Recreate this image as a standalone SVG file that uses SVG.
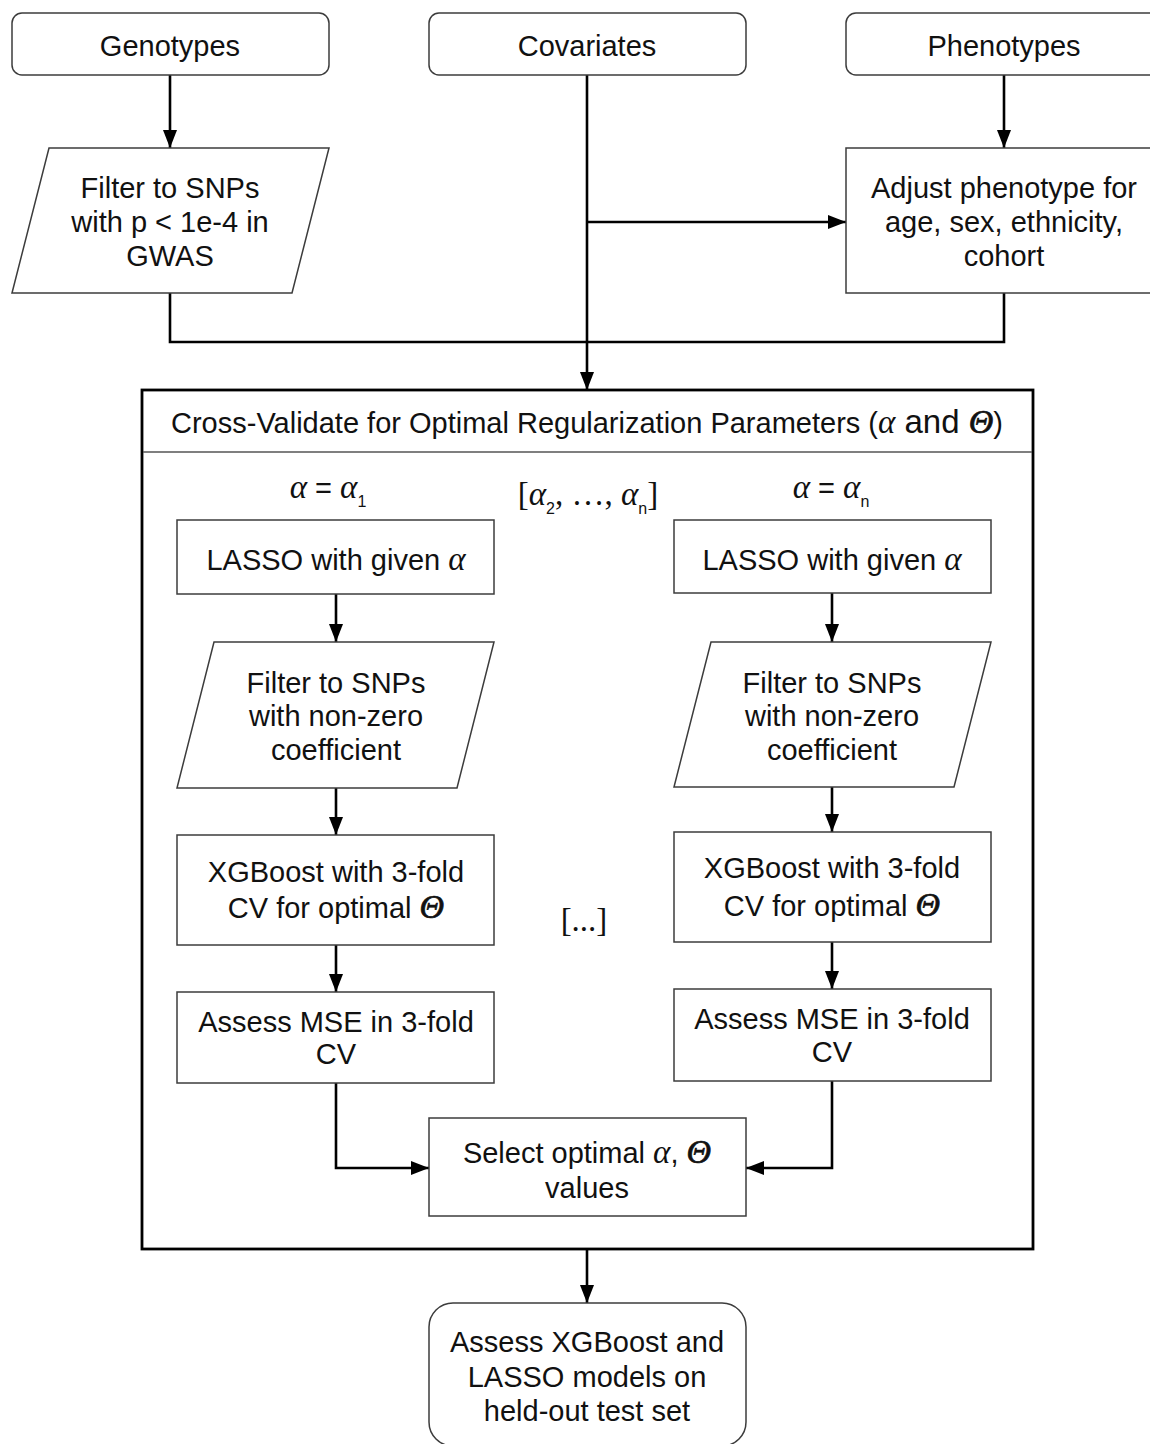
<svg xmlns="http://www.w3.org/2000/svg" width="1150" height="1444" viewBox="0 0 1150 1444">
  <defs>
    <marker id="arrow" markerUnits="userSpaceOnUse" markerWidth="18" markerHeight="14" refX="18" refY="7" orient="auto">
      <path d="M0,0 L18,7 L0,14 z" fill="#000"/>
    </marker>
    <style>
      .node { fill: #fff; stroke: #3c3c3c; stroke-width: 1.5; }
      .frame { fill: #fff; stroke: #000; stroke-width: 2.8; }
      .sep { stroke: #555; stroke-width: 1.5; }
      .conn { fill: none; stroke: #000; stroke-width: 2.6; }
      .arr { marker-end: url(#arrow); }
      text { font-family: "Liberation Sans", Arial, sans-serif; font-size: 29px; fill: #111; text-anchor: middle; }
      .gr { font-family: "Liberation Serif", "Times New Roman", serif; font-style: italic; font-size: 33px; }
      .th { font-family: "Liberation Serif", "Times New Roman", serif; font-style: italic; font-size: 34px; stroke: #111; stroke-width: 0.7; }
      .sub { font-size: 16px; }
      .serif { font-family: "Liberation Serif", "Times New Roman", serif; font-size: 33px; }
    </style>
  </defs>

  <rect width="1150" height="1444" fill="#fff"/>

  <!-- outer cross-validation frame -->
  <g id="cv-frame">
    <rect class="frame" x="142" y="390" width="891" height="859"/>
    <line class="sep" x1="143" y1="452" x2="1032" y2="452"/>
    <text x="587" y="433">Cross-Validate for Optimal Regularization Parameters (<tspan class="gr">α</tspan><tspan font-size="33"> and </tspan><tspan class="th">Θ</tspan>)</text>
  </g>

  <!-- connectors -->
  <g id="connectors">
    <line class="conn arr" x1="170" y1="75" x2="170" y2="148"/>
    <line class="conn arr" x1="1004" y1="75" x2="1004" y2="148"/>
    <line class="conn arr" x1="587" y1="75" x2="587" y2="390"/>
    <line class="conn arr" x1="587" y1="222" x2="846" y2="222"/>
    <polyline class="conn" points="170,293 170,342 1004,342 1004,293"/>

    <line class="conn arr" x1="336" y1="594" x2="336" y2="642"/>
    <line class="conn arr" x1="336" y1="788" x2="336" y2="835"/>
    <line class="conn arr" x1="336" y1="945" x2="336" y2="992"/>

    <line class="conn arr" x1="832" y1="593" x2="832" y2="642"/>
    <line class="conn arr" x1="832" y1="787" x2="832" y2="832"/>
    <line class="conn arr" x1="832" y1="942" x2="832" y2="989"/>

    <polyline class="conn arr" points="336,1083 336,1168 429,1168"/>
    <polyline class="conn arr" points="832,1081 832,1168 746,1168"/>

    <line class="conn arr" x1="587" y1="1249" x2="587" y2="1303"/>
  </g>

  <!-- inputs -->
  <g id="genotypes">
    <rect class="node" x="12" y="13" width="317" height="62" rx="10"/>
    <text x="170" y="56">Genotypes</text>
  </g>
  <g id="covariates">
    <rect class="node" x="429" y="13" width="317" height="62" rx="10"/>
    <text x="587" y="56">Covariates</text>
  </g>
  <g id="phenotypes">
    <rect class="node" x="846" y="13" width="317" height="62" rx="10"/>
    <text x="1004" y="56">Phenotypes</text>
  </g>

  <g id="gwas-filter">
    <polygon class="node" points="49,148 329,148 292,293 12,293"/>
    <text x="170" y="198">Filter to SNPs</text>
    <text x="170" y="232">with p &lt; 1e-4 in</text>
    <text x="170" y="266">GWAS</text>
  </g>

  <g id="adjust-phenotype">
    <rect class="node" x="846" y="148" width="317" height="145"/>
    <text x="1004" y="198">Adjust phenotype for</text>
    <text x="1004" y="232">age, sex, ethnicity,</text>
    <text x="1004" y="266">cohort</text>
  </g>

  <!-- alpha labels -->
  <g id="alpha-labels">
    <text x="328" y="498"><tspan class="gr">α</tspan> = <tspan class="gr">α</tspan><tspan class="sub" dy="9">1</tspan></text>
    <text x="588" y="505"><tspan class="serif">[</tspan><tspan class="gr">α</tspan><tspan class="sub" dy="9">2</tspan><tspan class="serif" dy="-9">, …, </tspan><tspan class="gr">α</tspan><tspan class="sub" dy="9">n</tspan><tspan class="serif" dy="-9">]</tspan></text>
    <text x="831" y="498"><tspan class="gr">α</tspan> = <tspan class="gr">α</tspan><tspan class="sub" dy="9">n</tspan></text>
    <text class="serif" x="584" y="931">[...]</text>
  </g>

  <!-- left column -->
  <g id="lasso-1">
    <rect class="node" x="177" y="520" width="317" height="74"/>
    <text x="336" y="570">LASSO with given <tspan class="gr">α</tspan></text>
  </g>
  <g id="filter-1">
    <polygon class="node" points="214,642 494,642 457,788 177,788"/>
    <text x="336" y="693">Filter to SNPs</text>
    <text x="336" y="726">with non-zero</text>
    <text x="336" y="760">coefficient</text>
  </g>
  <g id="xgboost-1">
    <rect class="node" x="177" y="835" width="317" height="110"/>
    <text x="336" y="882">XGBoost with 3-fold</text>
    <text x="336" y="918">CV for optimal <tspan class="th">Θ</tspan></text>
  </g>
  <g id="mse-1">
    <rect class="node" x="177" y="992" width="317" height="91"/>
    <text x="336" y="1032">Assess MSE in 3-fold</text>
    <text x="336" y="1064">CV</text>
  </g>

  <!-- right column -->
  <g id="lasso-n">
    <rect class="node" x="674" y="520" width="317" height="73"/>
    <text x="832" y="570">LASSO with given <tspan class="gr">α</tspan></text>
  </g>
  <g id="filter-n">
    <polygon class="node" points="711,642 991,642 954,787 674,787"/>
    <text x="832" y="693">Filter to SNPs</text>
    <text x="832" y="726">with non-zero</text>
    <text x="832" y="760">coefficient</text>
  </g>
  <g id="xgboost-n">
    <rect class="node" x="674" y="832" width="317" height="110"/>
    <text x="832" y="878">XGBoost with 3-fold</text>
    <text x="832" y="916">CV for optimal <tspan class="th">Θ</tspan></text>
  </g>
  <g id="mse-n">
    <rect class="node" x="674" y="989" width="317" height="92"/>
    <text x="832" y="1029">Assess MSE in 3-fold</text>
    <text x="832" y="1062">CV</text>
  </g>

  <g id="select-optimal">
    <rect class="node" x="429" y="1118" width="317" height="98"/>
    <text x="587" y="1163">Select optimal <tspan class="gr">α</tspan>, <tspan class="th">Θ</tspan></text>
    <text x="587" y="1198">values</text>
  </g>

  <g id="test-set">
    <rect class="node" x="429" y="1303" width="317" height="143" rx="24"/>
    <text x="587" y="1352">Assess XGBoost and</text>
    <text x="587" y="1387">LASSO models on</text>
    <text x="587" y="1421">held-out test set</text>
  </g>
</svg>
